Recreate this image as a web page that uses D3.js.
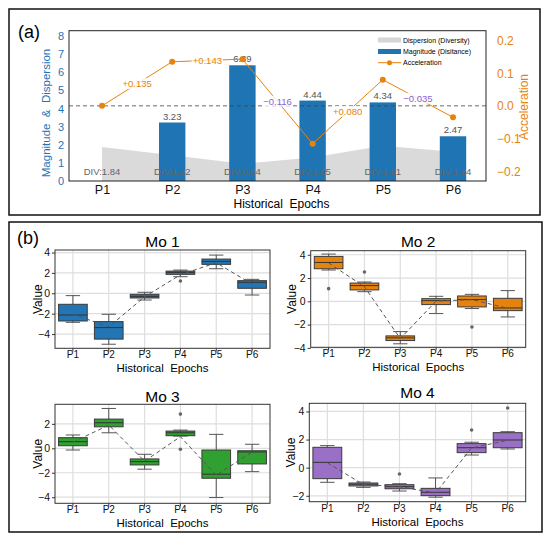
<!DOCTYPE html>
<html>
<head>
<meta charset="utf-8">
<script src="https://cdn.jsdelivr.net/npm/d3@7"></script>
<style>
  body { margin: 0; background: #fff; }
  text { font-family: Arial, "Liberation Sans", sans-serif; }
</style>
</head>
<body>
<div id="chart"></div>
<script>
// ---- data ----
var periods = ["P1", "P2", "P3", "P4", "P5", "P6"];

// panel (a)
var magnitude = [null, 3.23, 6.39, 4.44, 4.34, 2.47];
var divValues = [1.84, 1.22, 0.64, 1.05, 1.91, 1.54];
var dispersionArea = [1.88, 1.42, 0.95, 1.3, 1.95, 1.62];
var acceleration = [0, 0.135, 0.143, -0.116, 0.080, -0.035];
var leftTicks = [0, 1, 2, 3, 4, 5, 6, 7, 8];
var rightTicks = [-0.2, -0.1, 0, 0.1, 0.2];

// panel (b): [low whisker, q1, median, q3, high whisker]
var mo1Stats = [[-2.85, -2.72, -2.13, -1.08, -0.23], [-5.0, -4.5, -3.37, -2.78, -2.06], [-0.66, -0.46, -0.3, -0.1, 0.1],
                [1.63, 1.86, 2.05, 2.18, 2.28], [2.41, 2.84, 3.13, 3.36, 3.75], [-0.17, 0.49, 1.08, 1.24, 1.37]];
var mo1Means = [-2.05, -3.3, -0.35, 1.82, 3.0, 0.9];
var mo1Outliers = [[], [], [], [1.2], [], []];

var mo2Stats = [[2.69, 2.8, 3.34, 3.86, 4.06], [0.83, 0.98, 1.35, 1.57, 1.66], [-3.65, -3.37, -3.14, -2.97, -2.6],
                [-1.05, -0.28, 0.06, 0.23, 0.43], [-0.62, -0.48, 0.15, 0.46, 0.6], [-1.34, -0.8, -0.57, 0.26, 0.92]];
var mo2Means = [3.3, 1.25, -3.2, 0.02, 0.15, -0.6];
var mo2Outliers = [[1.09], [2.52], [], [], [-2.2], []];

var mo3Stats = [[-0.14, 0.21, 0.54, 0.87, 1.09], [1.27, 1.76, 2.09, 2.39, 3.26], [-1.71, -1.36, -1.09, -0.87, -0.49],
                [1.0, 1.03, 1.27, 1.41, 1.49], [-4.03, -2.45, -2.12, -0.14, 1.14], [-1.91, -1.28, -0.3, -0.2, 0.33]];
var mo3Means = [0.5, 1.9, -1.05, 0.95, -2.2, -0.3];
var mo3Outliers = [[], [], [], [2.8, -0.08], [], []];

var mo4Stats = [[-1.04, -0.78, 0.38, 1.45, 1.57], [-1.4, -1.3, -1.18, -1.09, -1.02], [-1.66, -1.5, -1.35, -1.21, -1.14],
                [-2.1, -1.99, -1.75, -1.47, -0.73], [0.9, 1.07, 1.42, 1.71, 1.81], [1.33, 1.42, 1.97, 2.49, 2.56]];
var mo4Means = [0.35, -1.2, -1.35, -1.8, 1.4, 1.95];
var mo4Outliers = [[], [], [-0.45], [], [2.68], [4.25]];

var svg = d3.select("#chart")
  .append("svg")
  .attr("width", 550)
  .attr("height", 541);

var blue = "#1f74b4";
var orange = "#e8820c";
var purple = "#8a63d2";

// ================= Panel (a) =================
svg.append("rect")
  .attr("x", 9).attr("y", 9).attr("width", 531).attr("height", 206)
  .attr("fill", "none").attr("stroke", "#111").attr("stroke-width", 1.5);

svg.append("text")
  .attr("x", 18).attr("y", 38)
  .attr("font-size", 18)
  .text("(a)");

var aL = 69, aR = 486, aT = 30.7, aB = 181;

var xA = d3.scalePoint().domain(periods).range([aL, aR]).padding(0.47);
var yLeft = d3.scaleLinear().domain([0, 8.3]).range([aB, aT]);
var yRight = d3.scaleLinear().domain([-0.23, 0.23]).range([aB, aT]);

var gA = svg.append("g");

// dispersion area
var area = d3.area()
  .x((d, i) => xA(periods[i]))
  .y0(yLeft(0))
  .y1(d => yLeft(d));

gA.append("path")
  .datum(dispersionArea)
  .attr("d", area)
  .attr("fill", "#d6d6d6")
  .attr("opacity", 0.9);

// magnitude bars
var barW = 26.4;
var barData = periods.map((p, i) => ({ p: p, v: magnitude[i] })).filter(d => d.v !== null);

gA.selectAll(".bar")
  .data(barData)
  .enter()
  .append("rect")
  .attr("x", d => xA(d.p) - barW / 2)
  .attr("y", d => yLeft(d.v))
  .attr("width", barW)
  .attr("height", d => yLeft(0) - yLeft(d.v))
  .attr("fill", blue);

gA.selectAll(".barlabel")
  .data(barData)
  .enter()
  .append("text")
  .attr("x", d => xA(d.p))
  .attr("y", d => yLeft(d.v) - 3)
  .attr("text-anchor", "middle")
  .attr("font-size", 9.5)
  .attr("fill", "#555")
  .text(d => d.v.toFixed(2));

// zero line of acceleration
gA.append("line")
  .attr("x1", aL).attr("x2", aR)
  .attr("y1", yRight(0)).attr("y2", yRight(0))
  .attr("stroke", "#444").attr("stroke-width", 0.8)
  .attr("stroke-dasharray", "4,3");

// acceleration line + dots
var accLine = d3.line()
  .x((d, i) => xA(periods[i]))
  .y(d => yRight(d));

gA.append("path")
  .datum(acceleration)
  .attr("d", accLine)
  .attr("fill", "none")
  .attr("stroke", orange)
  .attr("stroke-width", 1);

gA.selectAll(".dot")
  .data(acceleration)
  .enter()
  .append("circle")
  .attr("cx", (d, i) => xA(periods[i]))
  .attr("cy", d => yRight(d))
  .attr("r", 3)
  .attr("fill", orange);

// acceleration labels at segment midpoints
for (var i = 1; i < acceleration.length; i++) {
  var v = acceleration[i];
  var mx = (xA(periods[i - 1]) + xA(periods[i])) / 2;
  var my = (yRight(acceleration[i - 1]) + yRight(v)) / 2;
  var txt = (v >= 0 ? "+" : "\u2212") + Math.abs(v).toFixed(3);
  var lab = gA.append("g");
  var t = lab.append("text")
    .attr("x", mx).attr("y", my + 3.3)
    .attr("text-anchor", "middle")
    .attr("font-size", 9.5)
    .attr("fill", v >= 0 ? orange : purple)
    .text(txt);
  var bb = t.node().getBBox();
  lab.insert("rect", "text")
    .attr("x", bb.x - 1).attr("y", bb.y)
    .attr("width", bb.width + 2).attr("height", bb.height)
    .attr("fill", "#fff").attr("opacity", 0.8);
}

// DIV labels
gA.selectAll(".div")
  .data(divValues)
  .enter()
  .append("text")
  .attr("x", (d, i) => xA(periods[i]))
  .attr("y", 174.5)
  .attr("text-anchor", "middle")
  .attr("font-size", 9.5)
  .attr("fill", "#666")
  .text(d => "DIV:" + d.toFixed(2));

// frame
gA.append("rect")
  .attr("x", aL).attr("y", aT).attr("width", aR - aL).attr("height", aB - aT)
  .attr("fill", "none").attr("stroke", "#222").attr("stroke-width", 1);

// axes
var leftAxis = gA.append("g")
  .attr("transform", `translate(${aL},0)`)
  .call(d3.axisLeft(yLeft).tickValues(leftTicks).tickSize(0).tickPadding(5));
leftAxis.select(".domain").remove();
leftAxis.selectAll("text").attr("fill", blue).attr("font-size", 11);

var rightAxis = gA.append("g")
  .attr("transform", `translate(${aR},0)`)
  .call(d3.axisRight(yRight).tickValues(rightTicks).tickSize(0).tickPadding(11).tickFormat(d3.format(".1f")));
rightAxis.select(".domain").remove();
rightAxis.selectAll("text").attr("fill", orange).attr("font-size", 12);

var bottomAxis = gA.append("g")
  .attr("transform", `translate(0,${aB})`)
  .call(d3.axisBottom(xA).tickSize(0).tickPadding(4));
bottomAxis.select(".domain").remove();
bottomAxis.selectAll("text").attr("fill", "#111").attr("font-size", 12.5);

gA.append("text")
  .attr("x", (aL + aR) / 2 + 4).attr("y", 208)
  .attr("text-anchor", "middle")
  .attr("font-size", 12)
  .style("white-space", "pre")
  .text("Historical  Epochs");

gA.append("text")
  .attr("transform", "translate(50,113) rotate(-90)")
  .attr("text-anchor", "middle")
  .attr("font-size", 11.5)
  .attr("fill", blue)
  .style("white-space", "pre")
  .text("Magnitude  &  Dispersion");

gA.append("text")
  .attr("transform", "translate(528,107) rotate(-90)")
  .attr("text-anchor", "middle")
  .attr("font-size", 12)
  .attr("fill", orange)
  .text("Acceleration");

// legend
var legend = gA.append("g").attr("font-size", 7);
legend.append("rect").attr("x", 378).attr("y", 37.5).attr("width", 23).attr("height", 5).attr("fill", "#d6d6d6");
legend.append("text").attr("x", 403).attr("y", 42.5).text("Dispersion (Diversity)");
legend.append("rect").attr("x", 378).attr("y", 49).attr("width", 23).attr("height", 5).attr("fill", blue);
legend.append("text").attr("x", 403).attr("y", 54).text("Magnitude (Disitance)");
legend.append("line").attr("x1", 378).attr("x2", 401).attr("y1", 62.7).attr("y2", 62.7).attr("stroke", orange);
legend.append("circle").attr("cx", 389.5).attr("cy", 62.7).attr("r", 2.5).attr("fill", orange);
legend.append("text").attr("x", 403).attr("y", 65.2).text("Acceleration");

// ================= Panel (b) =================
svg.append("rect")
  .attr("x", 9).attr("y", 222).attr("width", 533).attr("height", 310)
  .attr("fill", "none").attr("stroke", "#111").attr("stroke-width", 1.5);

svg.append("text")
  .attr("x", 17).attr("y", 244)
  .attr("font-size", 18)
  .text("(b)");

var subplots = [
  { title: "Mo 1", stats: mo1Stats, means: mo1Means, outliers: mo1Outliers, color: "#2376b5",
    x0: 55, x1: 270, y0: 250, y1: 348.3, domain: [-5.4, 4.25], ticks: [-4, -2, 0, 2, 4], titleY: 246.5, labX: 37 },
  { title: "Mo 2", stats: mo2Stats, means: mo2Means, outliers: mo2Outliers, color: "#e6830f",
    x0: 310.7, x1: 525.7, y0: 250.7, y1: 347.3, domain: [-3.95, 4.35], ticks: [-4, -2, 0, 2, 4], titleY: 246.5, labX: 291 },
  { title: "Mo 3", stats: mo3Stats, means: mo3Means, outliers: mo3Outliers, color: "#30a030",
    x0: 55, x1: 270, y0: 404.3, y1: 503.3, domain: [-4.5, 3.6], ticks: [-4, -2, 0, 2], titleY: 401.5, labX: 37 },
  { title: "Mo 4", stats: mo4Stats, means: mo4Means, outliers: mo4Outliers, color: "#9a70c6",
    x0: 309.3, x1: 525.7, y0: 403.3, y1: 501.7, domain: [-2.42, 4.58], ticks: [-2, 0, 2, 4], titleY: 398.3, labX: 290 }
];

subplots.forEach(function(sp) {
  var g = svg.append("g");
  var x = d3.scaleBand().domain(periods).range([sp.x0, sp.x1]);
  var y = d3.scaleLinear().domain(sp.domain).range([sp.y1, sp.y0]);
  var bw = x.bandwidth() * 0.8;
  var cx = p => x(p) + x.bandwidth() / 2;

  // grid
  g.selectAll(".vgrid")
    .data(periods)
    .enter()
    .append("line")
    .attr("x1", cx).attr("x2", cx)
    .attr("y1", sp.y0).attr("y2", sp.y1)
    .attr("stroke", "#dedede").attr("stroke-width", 1.2);
  g.selectAll(".hgrid")
    .data(sp.ticks)
    .enter()
    .append("line")
    .attr("x1", sp.x0).attr("x2", sp.x1)
    .attr("y1", d => y(d)).attr("y2", d => y(d))
    .attr("stroke", "#dedede").attr("stroke-width", 1.2);

  // boxes
  var boxes = g.selectAll(".box")
    .data(sp.stats)
    .enter()
    .append("g");

  boxes.append("line")
    .attr("x1", (d, i) => cx(periods[i])).attr("x2", (d, i) => cx(periods[i]))
    .attr("y1", d => y(d[0])).attr("y2", d => y(d[1]))
    .attr("stroke", "#555").attr("stroke-width", 1);
  boxes.append("line")
    .attr("x1", (d, i) => cx(periods[i])).attr("x2", (d, i) => cx(periods[i]))
    .attr("y1", d => y(d[3])).attr("y2", d => y(d[4]))
    .attr("stroke", "#555").attr("stroke-width", 1);
  [0, 4].forEach(function(k) {
    boxes.append("line")
      .attr("x1", (d, i) => cx(periods[i]) - bw / 4).attr("x2", (d, i) => cx(periods[i]) + bw / 4)
      .attr("y1", d => y(d[k])).attr("y2", d => y(d[k]))
      .attr("stroke", "#555").attr("stroke-width", 1);
  });
  boxes.append("rect")
    .attr("x", (d, i) => cx(periods[i]) - bw / 2)
    .attr("y", d => y(d[3]))
    .attr("width", bw)
    .attr("height", d => y(d[1]) - y(d[3]))
    .attr("fill", sp.color)
    .attr("stroke", "#3a3a3a").attr("stroke-width", 1);
  boxes.append("line")
    .attr("x1", (d, i) => cx(periods[i]) - bw / 2).attr("x2", (d, i) => cx(periods[i]) + bw / 2)
    .attr("y1", d => y(d[2])).attr("y2", d => y(d[2]))
    .attr("stroke", "#333").attr("stroke-width", 1);

  // outliers
  sp.outliers.forEach(function(list, i) {
    g.selectAll(null)
      .data(list)
      .enter()
      .append("circle")
      .attr("cx", cx(periods[i]))
      .attr("cy", d => y(d))
      .attr("r", 1.8)
      .attr("fill", "#666");
  });

  // mean trend
  g.append("path")
    .datum(sp.means)
    .attr("d", d3.line().x((d, i) => cx(periods[i])).y(d => y(d)))
    .attr("fill", "none")
    .attr("stroke", "#555")
    .attr("stroke-width", 1)
    .attr("stroke-dasharray", "4,3");

  // frame
  g.append("rect")
    .attr("x", sp.x0).attr("y", sp.y0)
    .attr("width", sp.x1 - sp.x0).attr("height", sp.y1 - sp.y0)
    .attr("fill", "none").attr("stroke", "#333").attr("stroke-width", 1);

  var ya = g.append("g")
    .attr("transform", `translate(${sp.x0},0)`)
    .call(d3.axisLeft(y).tickValues(sp.ticks).tickSize(3).tickPadding(2).tickFormat(d3.format("d")));
  ya.select(".domain").remove();
  ya.selectAll("line").attr("stroke", "#333");
  ya.selectAll("text").attr("fill", "#111").attr("font-size", 10.5);

  var xa = g.append("g")
    .attr("transform", `translate(0,${sp.y1})`)
    .call(d3.axisBottom(x).tickSize(3).tickPadding(1));
  xa.select(".domain").remove();
  xa.selectAll("line").attr("stroke", "#333");
  xa.selectAll("text").attr("fill", "#111").attr("font-size", 10).attr("dy", "0.6em");

  g.append("text")
    .attr("x", (sp.x0 + sp.x1) / 2).attr("y", sp.titleY)
    .attr("text-anchor", "middle")
    .attr("font-size", 15.5)
    .text(sp.title);

  g.append("text")
    .attr("x", (sp.x0 + sp.x1) / 2).attr("y", sp.y1 + 24)
    .attr("text-anchor", "middle")
    .attr("font-size", 11.5)
    .style("white-space", "pre")
    .text("Historical  Epochs");

  g.append("text")
    .attr("transform", `translate(${sp.labX + 5},${(sp.y0 + sp.y1) / 2}) rotate(-90)`)
    .attr("text-anchor", "middle")
    .attr("font-size", 12)
    .text("Value");
});
</script>
</body>
</html>
